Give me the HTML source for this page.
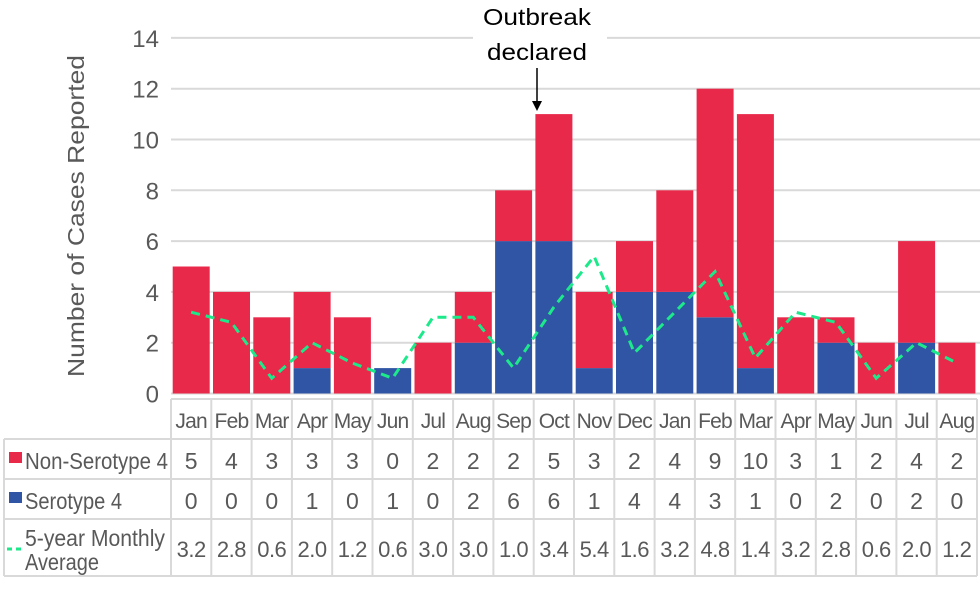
<!DOCTYPE html>
<html><head><meta charset="utf-8"><style>
body{margin:0;background:#fff;width:980px;height:590px;overflow:hidden;font-family:"Liberation Sans",sans-serif}
svg text{font-family:"Liberation Sans",sans-serif}
</style></head><body>
<svg id="chart" width="980" height="590" viewBox="0 0 980 590" xmlns="http://www.w3.org/2000/svg">
<g id="grid"></g><g id="bars"></g><g id="line"></g><g id="table"></g>
<text transform="translate(84,216) rotate(-90)" text-anchor="middle" font-size="23" fill="#595959" textLength="322" lengthAdjust="spacingAndGlyphs">Number of Cases Reported</text>
<rect x="473" y="0" width="134" height="66" fill="#fff"/>
<text x="537" y="25" text-anchor="middle" font-size="23" fill="#000" textLength="108" lengthAdjust="spacingAndGlyphs">Outbreak</text>
<text x="537" y="60" text-anchor="middle" font-size="23" fill="#000" textLength="100" lengthAdjust="spacingAndGlyphs">declared</text>
<line x1="537" y1="68" x2="537" y2="102" stroke="#000" stroke-width="1.5"/>
<polygon points="532,101 542,101 537,111" fill="#000"/>
</svg>
<script>
const months=["Jan","Feb","Mar","Apr","May","Jun","Jul","Aug","Sep","Oct","Nov","Dec","Jan","Feb","Mar","Apr","May","Jun","Jul","Aug"];
const nonSero=[5,4,3,3,3,0,2,2,2,5,3,2,4,9,10,3,1,2,4,2];
const sero=[0,0,0,1,0,1,0,2,6,6,1,4,4,3,1,0,2,0,2,0];
const avg=[3.2,2.8,0.6,2.0,1.2,0.6,3.0,3.0,1.0,3.4,5.4,1.6,3.2,4.8,1.4,3.2,2.8,0.6,2.0,1.2];
const yTicks=[0,2,4,6,8,10,12,14];
const NS="http://www.w3.org/2000/svg";
const X0=171,CW=40.3,Y0=393.5,UY=25.4;
const RED="#e8294a",BLUE="#2f55a4",GREEN="#1de98b",GRAY="#595959";
function xs(i){return X0+CW*i;}
function ys(v){return Y0-v*UY;}
function mk(tag,attrs,parent,txt){const e=document.createElementNS(NS,tag);for(const k in attrs)e.setAttribute(k,attrs[k]);if(txt!==undefined)e.textContent=txt;parent.appendChild(e);return e;}
const grid=document.getElementById('grid'),bars=document.getElementById('bars'),line=document.getElementById('line'),table=document.getElementById('table');
yTicks.forEach(t=>{
 const l=mk('line',{x1:X0,x2:980,y1:ys(t),y2:ys(t),stroke:'#d9d9d9','stroke-width':2},grid);
 
 
 const tx=mk('text',{x:159,y:ys(t)+9,'text-anchor':'end','font-size':24,fill:GRAY},grid,t);
 
 
});
months.forEach((m,i)=>{
 const bx=xs(i)+1.7,bw=37;
 const b1=mk('rect',{x:bx,y:ys(sero[i]),width:bw,height:sero[i]*UY,fill:BLUE},bars);
 
 
 const b2=mk('rect',{x:bx,y:ys(sero[i]+nonSero[i]),width:bw,height:nonSero[i]*UY,fill:RED},bars);
 
 
});
const pts=avg.map((v,i)=>(xs(i)+CW/2)+','+ys(v)).join(' ');
const pl=mk('polyline',{points:pts,fill:'none',stroke:GREEN,'stroke-width':3,'stroke-dasharray':'9,6'},line);


const rows=[399,439,479,519,576];
const TC='#d9d9d9';
function tl(x1,y1,x2,y2){const l=mk('line',{x1,y1,x2,y2,stroke:TC,'stroke-width':2},table);}
tl(X0,399,X0+CW*20,399);
[439,479,519,576].forEach(y=>tl(4,y,X0+CW*20,y));
tl(4,439,4,576);
for(let i=0;i<=20;i++)tl(xs(i),399,xs(i),576);
months.forEach((m,i)=>{
 const cx=xs(i)+CW/2;
 const t=mk('text',{x:cx,y:428,'text-anchor':'middle','font-size':21,fill:GRAY,'letter-spacing':'-0.8'},table,m);
 
 
 [nonSero,sero].forEach((s,r)=>{
  const v=mk('text',{x:cx,y:rows[r+1]+30,'text-anchor':'middle','font-size':23,fill:GRAY},table,s[i]);
  
  
 });
 const a=mk('text',{x:cx,y:557,'text-anchor':'middle','font-size':22,fill:GRAY,'letter-spacing':'-0.5'},table,avg[i].toFixed(1));
 
 
});
const k1=mk('rect',{x:9,y:452,width:13,height:11,fill:RED},table);


const l1=mk('text',{x:25,y:469,'font-size':23,fill:GRAY,textLength:143,lengthAdjust:'spacingAndGlyphs'},table,'Non-Serotype 4');


const k2=mk('rect',{x:9,y:492,width:13,height:11,fill:BLUE},table);


const l2=mk('text',{x:25,y:509,'font-size':23,fill:GRAY,textLength:97,lengthAdjust:'spacingAndGlyphs'},table,'Serotype 4');


const k3=mk('line',{x1:7,x2:24,y1:549,y2:549,stroke:GREEN,'stroke-width':3,'stroke-dasharray':'5,4'},table);


const l3=mk('text',{x:25,y:546,'font-size':23,fill:GRAY,textLength:140,lengthAdjust:'spacingAndGlyphs'},table,'5-year Monthly');


const l4=mk('text',{x:25,y:570,'font-size':23,fill:GRAY,textLength:74,lengthAdjust:'spacingAndGlyphs'},table,'Average');


</script>
</body></html>
